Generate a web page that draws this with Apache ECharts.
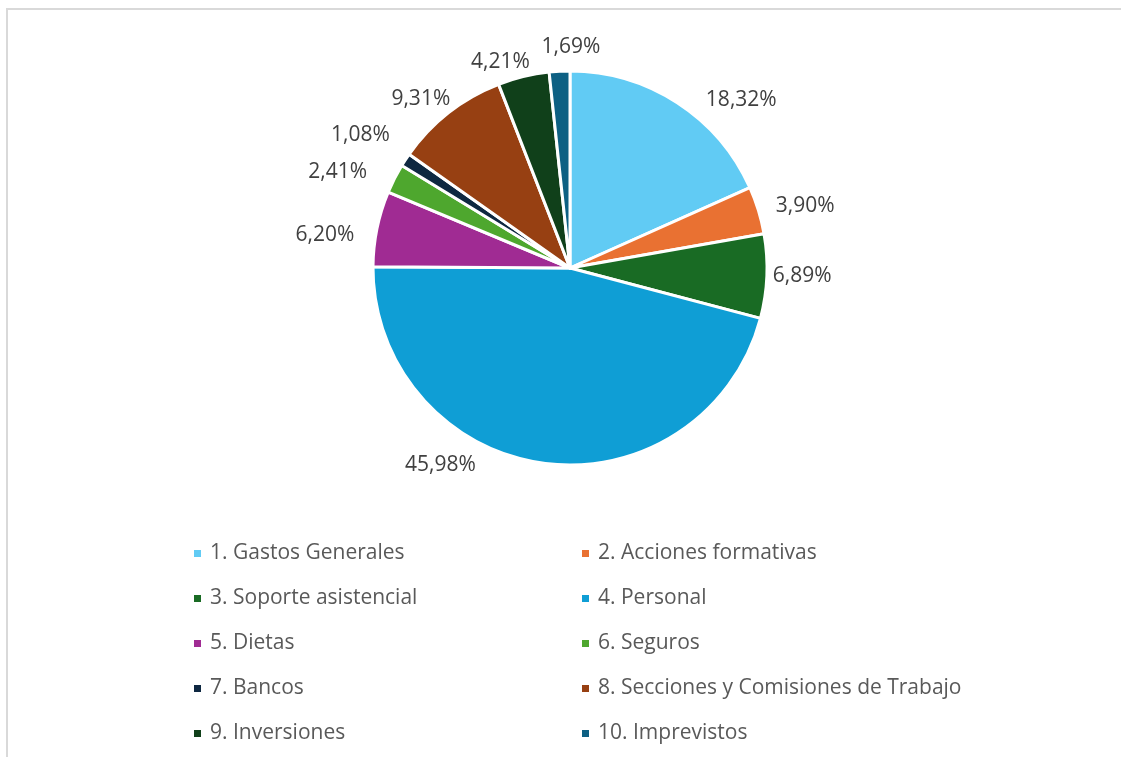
<!DOCTYPE html>
<html>
<head>
<meta charset="utf-8">
<script src="https://cdn.jsdelivr.net/npm/echarts@6/dist/echarts.min.js"></script>
<style>
html,body{margin:0;padding:0;background:#fff;}
#frame{position:absolute;left:6px;top:8px;width:1115px;height:749px;border-top:2px solid #d9d9d9;border-left:2px solid #d9d9d9;box-sizing:border-box;}
#chart{position:absolute;left:0;top:0;width:1121px;height:757px;}
</style>
</head>
<body>
<div id="frame"></div>
<div id="chart"></div>
<script>
const categories = ["1. Gastos Generales","2. Acciones formativas","3. Soporte asistencial","4. Personal","5. Dietas","6. Seguros","7. Bancos","8. Secciones y Comisiones de Trabajo","9. Inversiones","10. Imprevistos"];
const values = [18.32, 3.90, 6.89, 45.98, 6.20, 2.41, 1.08, 9.31, 4.21, 1.69];
const colors = ["#61CBF4","#E97132","#196B24","#0F9ED5","#A02B93","#4EA72E","#0E2841","#974012","#10401A","#0D6083"];
// label placement tweaks (label line lengths, line hidden) to mimic the original label positions
const labelLen  = [3, 14, 5, 2, -31, 15, 46, 17, 15, 24];
const labelLen2 = [22, -1, -4, 63, 48, 9, -28, -17, -15, -47];

const FONT = "Open Sans";
const chart = echarts.init(document.getElementById('chart'), null, {renderer:'canvas'});
const legendBase = {
  orient:'vertical', top:538, itemWidth:9, itemHeight:9, itemGap:24, icon:'rect',
  textStyle:{fontFamily:FONT, fontSize:21, color:'#595959', lineHeight:21, padding:[0,0,0,3]},
  selectedMode:false
};
chart.setOption({
  animation:false,
  color: colors,
  legend:[
    Object.assign({}, legendBase, {left:187, data: categories.filter((c,i)=>i%2===0)}),
    Object.assign({}, legendBase, {left:575, data: categories.filter((c,i)=>i%2===1)})
  ],
  series:[{
    type:'pie',
    center:[570,268],
    radius:[0,197],
    startAngle:90,
    clockwise:true,
    avoidLabelOverlap:false,
    itemStyle:{borderColor:'#fff', borderWidth:3},
    label:{
      show:true, position:'outside',
      fontFamily:FONT, fontSize:21, color:'#404040',
      formatter: p => p.value.toFixed(2).replace('.', ',') + '%'
    },
    labelLine:{show:false},
    emphasis:{disabled:true},
    data: categories.map((c,i)=>({name:c, value:values[i], labelLine:{show:false, length:labelLen[i], length2:labelLen2[i]}}))
  }]
});
</script>
</body>
</html>
